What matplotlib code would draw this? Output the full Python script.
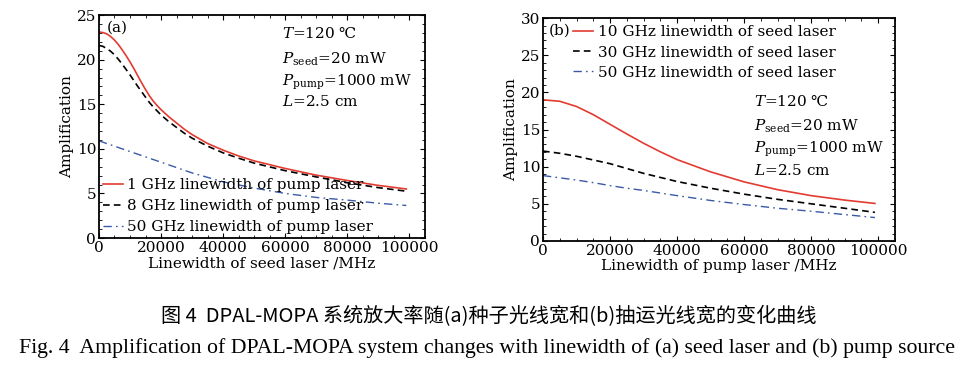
import matplotlib.pyplot as plt
from matplotlib.ticker import MultipleLocator

plt.rcParams['font.family'] = ['DejaVu Serif']
plt.rcParams['mathtext.fontset'] = 'dejavuserif'

# (a) amplification vs seed linewidth
seed_x = [0, 1250, 2500, 3750, 5000, 6250, 7500, 8750, 10000, 11250, 12500, 13750,
          15000, 16250, 17500, 18750, 20000, 22500, 25000, 27500, 30000,
          35000, 40000, 45000, 50000, 60000, 70000, 80000, 90000, 99000]
pump1 = [23.1, 23.05, 22.9, 22.6, 22.2, 21.7, 21.1, 20.45, 19.75, 19.0, 18.2, 17.4,
         16.65, 15.95, 15.35, 14.85, 14.4, 13.6, 12.9, 12.2, 11.6,
         10.6, 9.85, 9.2, 8.65, 7.8, 7.05, 6.45, 5.9, 5.5]
pump8 = [21.6, 21.5, 21.25, 20.95, 20.55, 20.05, 19.5, 18.9, 18.3, 17.65, 17.0, 16.4,
         15.8, 15.2, 14.7, 14.25, 13.8, 13.05, 12.4, 11.75, 11.2,
         10.3, 9.55, 8.95, 8.4, 7.55, 6.85, 6.2, 5.65, 5.25]
blue_x = [0, 10000, 20000, 30000, 40000, 50000, 60000, 70000, 80000, 90000, 99000]
pump50 = [10.9, 9.7, 8.5, 7.3, 6.3, 5.6, 5.0, 4.55, 4.25, 3.9, 3.65]

# (b) amplification vs pump linewidth
pump_x = [0, 5000, 10000, 15000, 20000, 25000, 30000, 35000, 40000, 50000, 60000,
          70000, 80000, 90000, 99000]
seed10 = [19.0, 18.8, 18.1, 17.0, 15.7, 14.4, 13.15, 12.0, 10.95, 9.3, 7.95,
          6.9, 6.1, 5.5, 5.05]
seed30 = [12.1, 11.8, 11.4, 10.9, 10.4, 9.75, 9.1, 8.55, 8.0, 7.1, 6.3,
          5.6, 5.0, 4.4, 3.85]
seed50 = [8.8, 8.5, 8.2, 7.85, 7.45, 7.1, 6.8, 6.45, 6.1, 5.45, 4.9,
          4.4, 4.0, 3.55, 3.15]

red = '#e23b30'
blue = '#3a5aa8'
dashdot = (0, (6, 3, 1.2, 3))
fs = 11

fig = plt.figure(figsize=(9.74, 3.69), dpi=100)
ax1 = fig.add_axes([0.1016, 0.355, 0.3347, 0.604])
ax2 = fig.add_axes([0.5575, 0.347, 0.3614, 0.604])

ax1.plot(seed_x, pump1, color=red, lw=1.2, label='1 GHz linewidth of pump laser')
ax1.plot(seed_x, pump8, color='black', lw=1.2, ls=(0, (4, 2.5)), label='8 GHz linewidth of pump laser')
ax1.plot(blue_x, pump50, color=blue, lw=1.0, ls=dashdot, label='50 GHz linewidth of pump laser')
ax1.set_ylim(0, 25)
ax1.set_xlabel('Linewidth of seed laser /MHz', fontsize=fs, labelpad=1)
ax1.legend(loc='lower left', frameon=False, fontsize=fs, handlelength=1.3,
           handletextpad=0.3, labelspacing=0.45, borderaxespad=0.05, borderpad=0.2)
ax1.text(0.025, 0.975, '(a)', transform=ax1.transAxes, fontsize=fs, va='top')
ax1.text(0.56, 0.955, '$T$=120 ℃', transform=ax1.transAxes, fontsize=fs, va='top')
ax1.text(0.56, 0.84, r'$P_{\mathrm{seed}}$=20 mW', transform=ax1.transAxes, fontsize=fs, va='top')
ax1.text(0.56, 0.74, r'$P_{\mathrm{pump}}$=1000 mW', transform=ax1.transAxes, fontsize=fs, va='top')
ax1.text(0.56, 0.645, '$L$=2.5 cm', transform=ax1.transAxes, fontsize=fs, va='top')

ax2.plot(pump_x, seed10, color=red, lw=1.2, label='10 GHz linewidth of seed laser')
ax2.plot(pump_x, seed30, color='black', lw=1.2, ls=(0, (4, 2.5)), label='30 GHz linewidth of seed laser')
ax2.plot(pump_x, seed50, color=blue, lw=1.0, ls=dashdot, label='50 GHz linewidth of seed laser')
ax2.set_ylim(0, 30)
ax2.set_xlabel('Linewidth of pump laser /MHz', fontsize=fs, labelpad=1)
ax2.legend(loc='upper left', bbox_to_anchor=(0.055, 1.015), frameon=False, fontsize=fs,
           handlelength=1.3, handletextpad=0.3, labelspacing=0.4, borderpad=0.2)
ax2.text(0.015, 0.975, '(b)', transform=ax2.transAxes, fontsize=fs, va='top')
ax2.text(0.6, 0.665, '$T$=120 ℃', transform=ax2.transAxes, fontsize=fs, va='top')
ax2.text(0.6, 0.555, r'$P_{\mathrm{seed}}$=20 mW', transform=ax2.transAxes, fontsize=fs, va='top')
ax2.text(0.6, 0.455, r'$P_{\mathrm{pump}}$=1000 mW', transform=ax2.transAxes, fontsize=fs, va='top')
ax2.text(0.6, 0.35, '$L$=2.5 cm', transform=ax2.transAxes, fontsize=fs, va='top')

for ax in (ax1, ax2):
    ax.set_xlim(0, 105000)
    ax.set_xticks([0, 20000, 40000, 60000, 80000, 100000])
    ax.xaxis.set_minor_locator(MultipleLocator(5000))
    ax.yaxis.set_major_locator(MultipleLocator(5))
    ax.yaxis.set_minor_locator(MultipleLocator(1))
    ax.tick_params(which='both', direction='in', top=True, right=True, labelsize=fs, pad=2)
    ax.tick_params(which='major', length=3.5)
    ax.tick_params(which='minor', length=2)
    ax.set_ylabel('Amplification', fontsize=fs, labelpad=2)
    for s in ax.spines.values():
        s.set_linewidth(1.3)

fig.text(0.502, 0.143, '图 4  DPAL-MOPA 系统放大率随(a)种子光线宽和(b)抽运光线宽的变化曲线',
         ha='center', va='center', fontsize=14.5, family=['Noto Sans CJK SC', 'DejaVu Sans'])
fig.text(0.5, 0.057, 'Fig. 4  Amplification of DPAL-MOPA system changes with linewidth of (a) seed laser and (b) pump source',
         ha='center', va='center', fontsize=15.7, family=['Liberation Serif'])

fig.savefig('out.png', dpi=100)
